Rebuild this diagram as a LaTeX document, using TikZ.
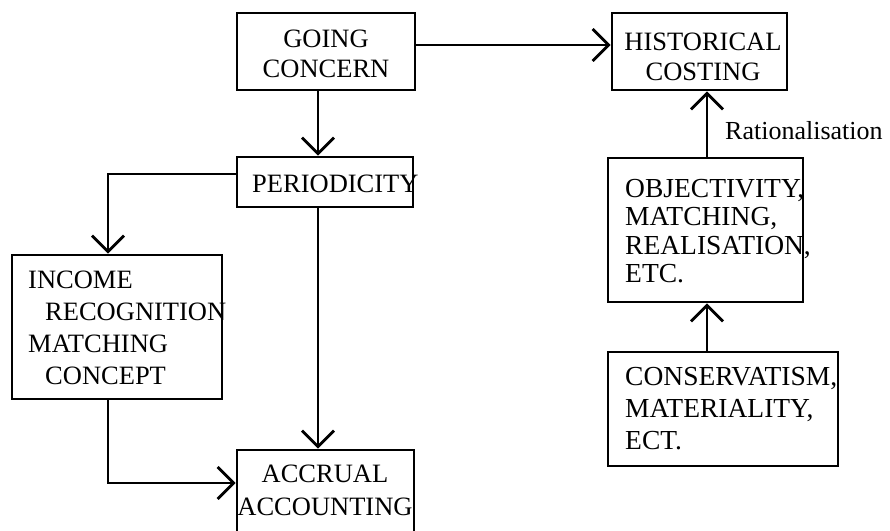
\documentclass[tikz,border=0pt]{standalone}
\usepackage{fontspec}
\setmainfont{Liberation Serif}
\usetikzlibrary{arrows.meta}

\tikzset{
  box/.style={draw, line width=2.8pt, rectangle, inner sep=0pt},
  txt/.style={inner sep=0pt, font=\fontsize{26.5}{30}\selectfont},
  txtl/.style={txt, anchor=north west, align=left},
  txtc/.style={txt, anchor=north, align=center},
  arr/.style={line width=2.8pt, line cap=round,
    -{Straight Barb[length=16pt,width=32pt,line width=2.8pt]}}
}

\begin{document}
\begin{tikzpicture}[x=1pt, y=-1pt]
\useasboundingbox (0,0) rectangle (890,530);

% texts (boxes are drawn over them)
\node[txtc] (tgc) at (326,29.4) {GOING\\CONCERN};
\node[txtc] (thc) at (703,32.4) {HISTORICAL\\COSTING};
\node[txtl] (tper) at (252,174.4) {PERIODICITY};
\node[txtl, font=\fontsize{26.5}{32}\selectfont] (tinc) at (28,270.4)
  {INCOME\\\hspace*{17pt}RECOGNITION\\MATCHING\\\hspace*{17pt}CONCEPT};
\node[txtc, font=\fontsize{26.5}{33}\selectfont] (tacc) at (325,464.4)
  {ACCRUAL\\ACCOUNTING};
\node[txtl, font=\fontsize{27.5}{28.3}\selectfont] (tobj) at (625,179)
  {OBJECTIVITY,\\MATCHING,\\REALISATION,\\ETC.};
\node[txtl, font=\fontsize{27.5}{32}\selectfont] (tcon) at (625,367)
  {CONSERVATISM,\\MATERIALITY,\\ECT.};
\node[txt, anchor=base west, font=\fontsize{26}{30}\selectfont] (rat) at (725,139) {Rationalisation};

% boxes
\node[box, minimum width=178pt, minimum height=77pt] (gc) at (326,51.5) {};
\node[box, minimum width=175pt, minimum height=77pt] (hc) at (699.5,51.5) {};
\node[box, minimum width=176pt, minimum height=50pt] (per) at (325,182) {};
\node[box, minimum width=210pt, minimum height=144pt] (inc) at (117,327) {};
\node[box, minimum width=177pt, minimum height=84pt] (acc) at (325.5,492) {};
\node[box, minimum width=195pt, minimum height=144pt] (obj) at (705.5,230) {};
\node[box, minimum width=230pt, minimum height=114pt] (con) at (723,409) {};

% connectors
\draw[arr] ([yshift=6.5pt]gc.east) -- ([yshift=6.5pt]hc.west);
\draw[arr] ([xshift=-8pt]gc.south) -- ([xshift=-8pt]gc.south |- per.north);
\draw[arr] ([yshift=8pt]per.west) -| ([xshift=-9pt]inc.north);
\draw[arr] ([xshift=-7pt]per.south) -- ([xshift=-7pt]per.south |- acc.north);
\draw[arr] ([xshift=-9pt]inc.south) |- ([yshift=9pt]acc.west);
\draw[arr] ([xshift=1.5pt]obj.north) -- ([xshift=1.5pt]obj.north |- hc.south);
\draw[arr] ([xshift=1.5pt]obj.south |- con.north) -- ([xshift=1.5pt]obj.south);
\end{tikzpicture}
\end{document}
